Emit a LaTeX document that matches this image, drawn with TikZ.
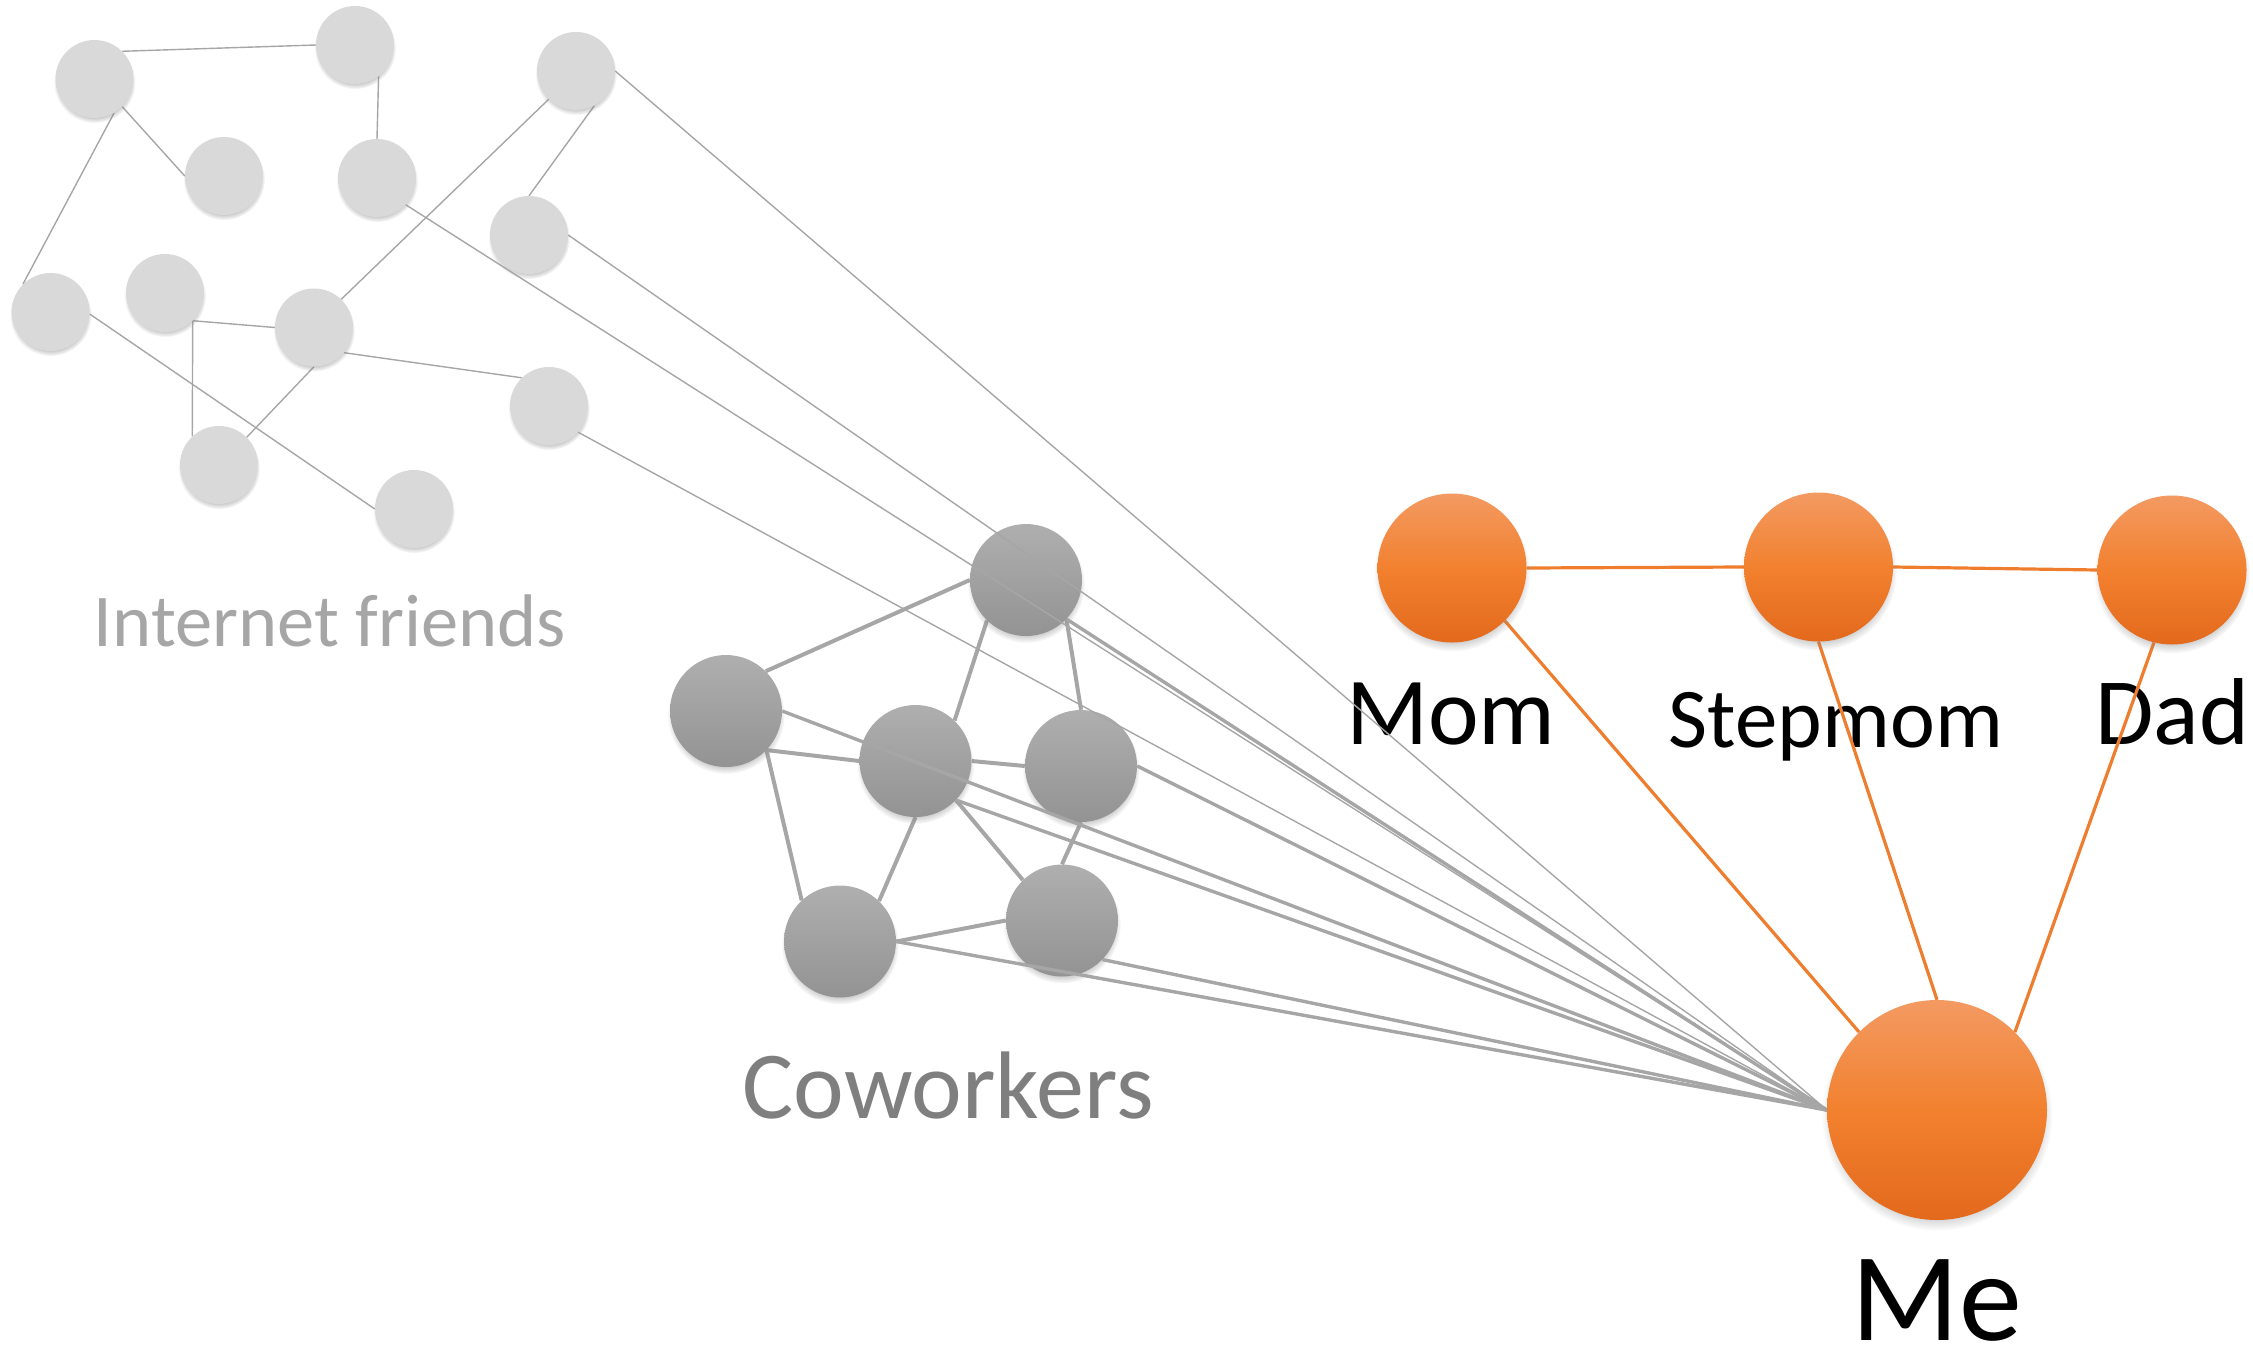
\documentclass[tikz,border=0pt]{standalone}
\usepackage{fontspec}
\setmainfont{Carlito}
\usetikzlibrary{shadows,fadings}

\definecolor{netfill}{HTML}{D9D9D9}
\definecolor{netline}{HTML}{A6A6A6}
\definecolor{worktop}{HTML}{AFAFAF}
\definecolor{workbot}{HTML}{939393}
\definecolor{workline}{HTML}{A6A6A6}
\definecolor{famtop}{HTML}{F39A62}
\definecolor{fammid}{HTML}{F2812F}
\definecolor{fambot}{HTML}{E3691C}
\definecolor{famline}{HTML}{EF7D2E}
\definecolor{worktext}{HTML}{7F7F7F}
\definecolor{nettext}{HTML}{A6A6A6}

\pgfdeclarelayer{labels}
\pgfdeclarelayer{netedges}
\pgfdeclarelayer{netnodes}
\pgfdeclarelayer{workedges}
\pgfdeclarelayer{worknodes}
\pgfdeclarelayer{tome}
\pgfsetlayers{labels,netedges,netnodes,workedges,worknodes,tome,main}

\tikzset{
  softshadow/.style={circular drop shadow={shadow xshift=0pt, shadow yshift=-#1, shadow scale=1.05, opacity=0.45}},
  netnode/.style={circle, inner sep=0pt, minimum size=78pt, fill=netfill, softshadow=3pt},
  worknode/.style={circle, inner sep=0pt, minimum size=112pt, shading=axis,
    top color=worktop, bottom color=workbot, softshadow=4pt},
  famnode/.style={circle, inner sep=0pt, minimum size=149pt, shading=axis,
    top color=famtop, bottom color=fambot, middle color=fammid, softshadow=5pt},
  menode/.style={famnode, minimum size=220pt},
  netedge/.style={draw=netline, line width=1.4pt},
  workedge/.style={draw=workline, line width=4pt},
  workme/.style={draw=workline, line width=3.4pt},
  netme/.style={draw=netline, line width=1.4pt},
  famedge/.style={draw=famline, line width=3.2pt},
  lbl/.style={anchor=base, inner sep=0pt, text depth=0pt},
}

\begin{document}
\begin{tikzpicture}[x=1pt,y=-1pt]
\useasboundingbox (0,0) rectangle (2253,1354);

% ---- internet friends ----
\begin{pgfonlayer}{netnodes}
\node[netnode] (A) at (94.5,79) {};
\node[netnode] (B) at (355,45) {};
\node[netnode] (C) at (576,71) {};
\node[netnode] (D) at (224,176) {};
\node[netnode] (E) at (377,178) {};
\node[netnode] (F) at (529,235) {};
\node[netnode] (G) at (50.6,312) {};
\node[netnode] (H) at (165,293) {};
\node[netnode] (I) at (314,327.5) {};
\node[netnode] (J) at (549,406) {};
\node[netnode] (K) at (219,465) {};
\node[netnode] (L) at (414,509) {};
\end{pgfonlayer}

\begin{pgfonlayer}{netedges}
\draw[netedge] (A.45) -- (B.180);
\draw[netedge] (B.-53) -- (E.90);
\draw[netedge] (A.-45) -- (D.180);
\draw[netedge] (A.-60) -- (G.135);
\draw[netedge] (C.226) -- (I.46);
\draw[netedge] (C.-62) -- (F.90);
\draw[netedge] (H.-45) -- (I.180);
\draw[netedge] (H.-45) -- (K.133);
\draw[netedge] (I.-90) -- (K.45);
\draw[netedge] (I.-40) -- (J.134);
\draw[netedge] (G.-3) -- (L.180);
\end{pgfonlayer}

% ---- coworkers ----
\begin{pgfonlayer}{worknodes}
\node[worknode] (W1) at (1026,580) {};
\node[worknode] (W2) at (726,711) {};
\node[worknode] (W3) at (915.5,761) {};
\node[worknode] (W4) at (1081,766) {};
\node[worknode] (W5) at (840,941.5) {};
\node[worknode] (W6) at (1062,920.5) {};
\end{pgfonlayer}

\begin{pgfonlayer}{workedges}
\draw[workedge] (W1.180) -- (W2.45);
\draw[workedge] (W1.226) -- (W3.46);
\draw[workedge] (W1.-44) -- (W4.90);
\draw[workedge] (W2.-44) -- (W3.180);
\draw[workedge] (W2.-44) -- (W5.133);
\draw[workedge] (W3.0) -- (W4.180);
\draw[workedge] (W3.-90) -- (W5.46);
\draw[workedge] (W3.-44) -- (W6.134);
\draw[workedge] (W4.-90) -- (W6.90);
\draw[workedge] (W5.0) -- (W6.180);
\end{pgfonlayer}

% ---- family ----
\node[famnode] (Mom) at (1452,568) {};
\node[famnode] (Stepmom) at (1818.5,567) {};
\node[famnode] (Dad) at (2172,570) {};
\node[menode] (Me) at (1937,1110) {};

% ---- labels ----
\begin{pgfonlayer}{labels}
\node[lbl, text=nettext, font=\fontsize{74.5}{74.5}\selectfont] (netlbl) at (330,646) {Internet friends};
\node[lbl, text=worktext, font=\fontsize{96}{96}\selectfont] (worklbl) at (948,1118) {Coworkers};
\node[lbl, font=\fontsize{96}{96}\selectfont] (momlbl) at (1451,744) {Mom};
\node[lbl, font=\fontsize{85}{85}\selectfont] (steplbl) at (1836,747) {Stepmom};
\node[lbl, font=\fontsize{95}{95}\selectfont] (dadlbl) at (2172,744) {Dad};
\node[lbl, font=\fontsize{126}{126}\selectfont] (melbl) at (1937,1340) {Me};
\end{pgfonlayer}

% ---- ties to me ----
\begin{pgfonlayer}{tome}
\draw[netme] (C.0) -- (Me.west);
\draw[netme] (E.-43) -- (Me.west);
\draw[netme] (F.0) -- (Me.west);
\draw[netme] (J.-42) -- (Me.west);
\draw[workme] (W1.-44) -- (Me.west);
\draw[workme] (W2.0) -- (Me.west);
\draw[workme] (W3.-44) -- (Me.west);
\draw[workme] (W4.0) -- (Me.west);
\draw[workme] (W5.0) -- (Me.west);
\draw[workme] (W6.-44) -- (Me.west);
\draw[famedge] (Mom.0) -- (Stepmom.180);
\draw[famedge] (Stepmom.0) -- (Dad.180);
\draw[famedge] (Mom.-45) -- (Me.135);
\draw[famedge] (Stepmom.-90) -- (Me.90);
\draw[famedge] (Dad.-104) -- (Me.45);
\end{pgfonlayer}
\end{tikzpicture}
\end{document}
